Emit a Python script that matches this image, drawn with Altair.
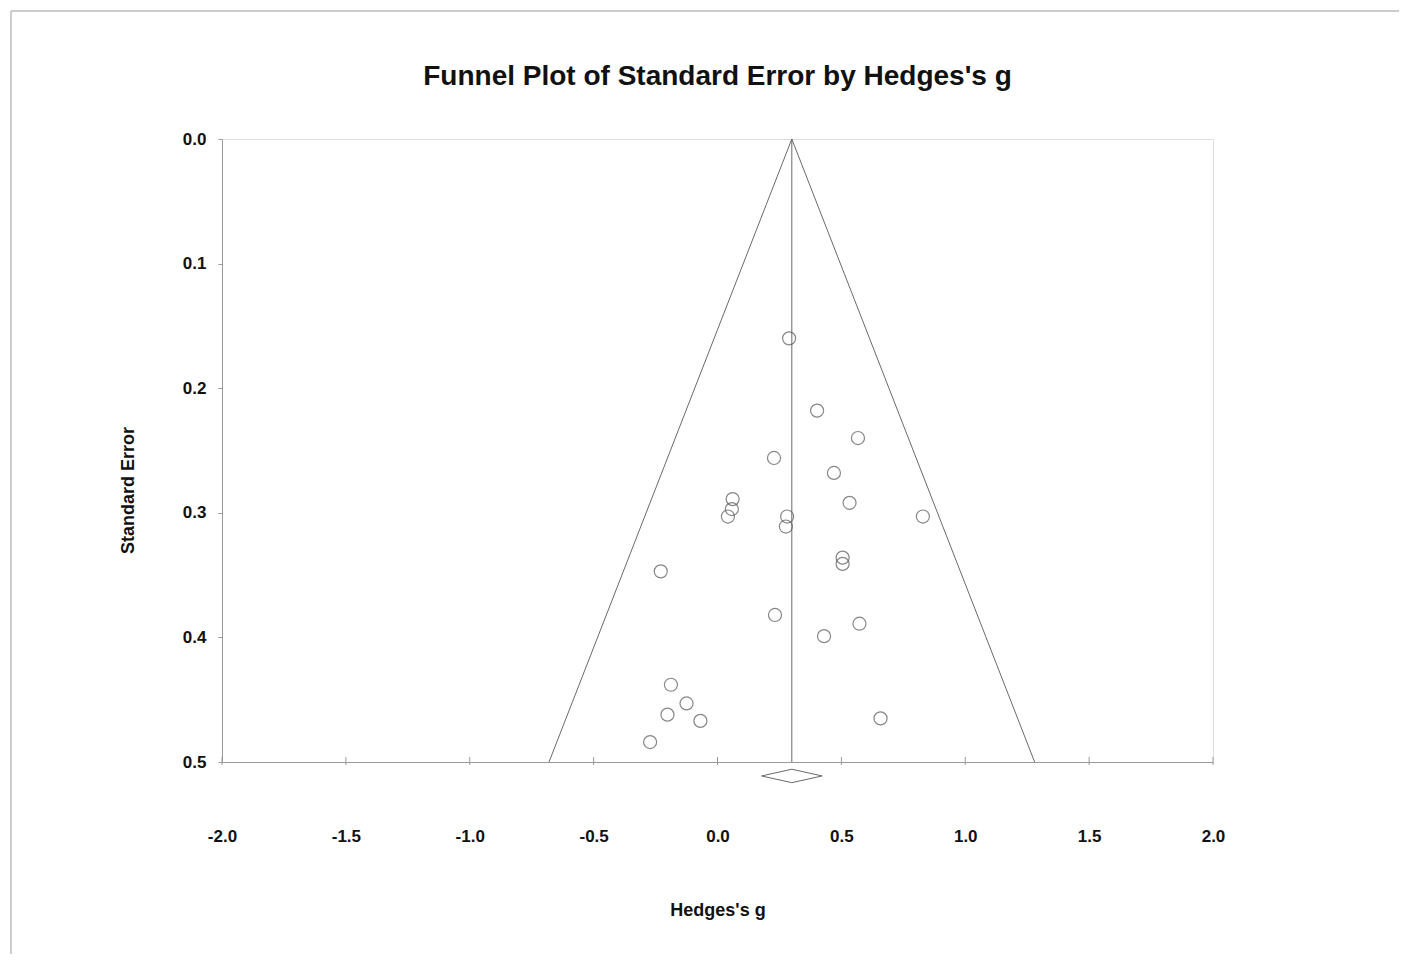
import altair as alt
import pandas as pd

# Study effect sizes (Hedges's g) and standard errors
hedges_g = [0.289, 0.402, 0.567, 0.228, 0.470, 0.061, 0.058, 0.042, 0.533, 0.281,
            0.276, 0.829, 0.505, 0.505, -0.229, 0.232, 0.573, 0.430, -0.188, -0.125,
            -0.202, -0.069, 0.658, -0.272]
std_err = [0.160, 0.218, 0.240, 0.256, 0.268, 0.289, 0.297, 0.303, 0.292, 0.303,
           0.311, 0.303, 0.336, 0.341, 0.347, 0.382, 0.389, 0.399, 0.438, 0.453,
           0.462, 0.467, 0.465, 0.484]

# Funnel outline (left bottom -> apex -> right bottom)
funnel_x = [-0.68, 0.30, 1.28]
funnel_y = [0.50, 0.00, 0.50]

# Pooled estimate line
pooled_x = [0.30]

# Summary diamond below axis
diamond_x = [0.178, 0.30, 0.422, 0.30, 0.178]
diamond_y = [0.5112, 0.5058, 0.5112, 0.5166, 0.5112]

x_ticks = [-2.0, -1.5, -1.0, -0.5, 0.0, 0.5, 1.0, 1.5, 2.0]
y_ticks = [0.0, 0.1, 0.2, 0.3, 0.4, 0.5]

TITLE = "Funnel Plot of Standard Error by Hedges's g"

FONT = "Liberation Sans"
AXIS_GRAY = "#9a9a9a"
LINE_GRAY = "#6a6a6a"

pts = pd.DataFrame({"g": hedges_g, "se": std_err})
funnel = pd.DataFrame({"g": funnel_x, "se": funnel_y, "o": list(range(len(funnel_x)))})
pooled = pd.DataFrame({"g": pooled_x})
diamond = pd.DataFrame({"g": diamond_x, "se": diamond_y, "o": list(range(len(diamond_x)))})
ticks = pd.DataFrame({"g": x_ticks})

xscale = alt.Scale(domain=[-2, 2], nice=False, zero=False)
yscale = alt.Scale(domain=[0, 0.5], nice=False, zero=False, reverse=True)

x_axis = alt.Axis(
    values=x_ticks, labelExpr="replace(format(datum.value, '.1f'), '\u2212', '-')",
    ticks=False, labelPadding=66, labelFlush=False, labelFont=FONT, labelFontSize=17,
    labelFontWeight="bold", labelColor="#111", domainColor=AXIS_GRAY, grid=False,
    title="Hedges's g", titleFont=FONT, titleFontSize=18, titleFontWeight="bold",
    titleColor="#111", titleY=148, titleBaseline="middle",
)
y_axis = alt.Axis(
    values=y_ticks, format=".1f", tickSize=4, tickColor=AXIS_GRAY, labelPadding=12,
    labelFlush=False, labelFont=FONT, labelFontSize=17, labelFontWeight="bold",
    labelColor="#111", domainColor=AXIS_GRAY, grid=False,
    title="Standard Error", titleFont=FONT, titleFontSize=18, titleFontWeight="bold",
    titleColor="#111", titleX=-94, titleY=351, titleBaseline="middle", titleAngle=270,
)

points = alt.Chart(pts).mark_point(
    shape="circle", filled=False, size=170, color="#555", strokeWidth=1.2
).encode(
    x=alt.X("g:Q", scale=xscale, axis=x_axis),
    y=alt.Y("se:Q", scale=yscale, axis=y_axis),
)

funnel_lines = alt.Chart(funnel).mark_line(color=LINE_GRAY, strokeWidth=1).encode(
    x=alt.X("g:Q", scale=xscale), y=alt.Y("se:Q", scale=yscale), order="o:Q"
)

pooled_line = alt.Chart(pooled).mark_rule(color=LINE_GRAY, strokeWidth=1).encode(
    x=alt.X("g:Q", scale=xscale), y=alt.datum(0.0, scale=yscale), y2=alt.datum(0.5)
)

diamond_line = alt.Chart(diamond).mark_line(color=LINE_GRAY, strokeWidth=1).encode(
    x=alt.X("g:Q", scale=xscale), y=alt.Y("se:Q", scale=yscale), order="o:Q"
)

tick_marks = alt.Chart(ticks).mark_rule(
    color=AXIS_GRAY, strokeWidth=1, yOffset=-5, y2Offset=3
).encode(
    x=alt.X("g:Q", scale=xscale), y=alt.datum(0.5, scale=yscale), y2=alt.datum(0.5)
)

one = pd.DataFrame({"a": [0]})

# chart title drawn as text above the plot area
title_text = alt.Chart(one).mark_text(
    font=FONT, fontSize=28, fontWeight="bold", color="#111", align="center", baseline="alphabetic"
).encode(x=alt.value(495.5), y=alt.value(-54), text=alt.value(TITLE))

# decorative outer frame (top and left edges) as in the original image
border_top = alt.Chart(one).mark_rule(color="#bbbbbb", strokeWidth=1.5).encode(
    x=alt.value(-211), x2=alt.value(1200), y=alt.value(-128)
)
border_left = alt.Chart(one).mark_rule(color="#bbbbbb", strokeWidth=1.5).encode(
    x=alt.value(-211), y=alt.value(-128), y2=alt.value(830)
)

chart = alt.layer(
    border_top, border_left, title_text, funnel_lines, pooled_line, diamond_line,
    tick_marks, points
).properties(
    width=991, height=623,
    autosize=alt.AutoSizeParams(type="none"),
    padding={"left": 214, "top": 131, "right": 186, "bottom": 192},
).configure_view(
    stroke=AXIS_GRAY, strokeWidth=1
).configure(background="white")

chart.save("out.html", embed_options={"renderer": "svg", "actions": False})
